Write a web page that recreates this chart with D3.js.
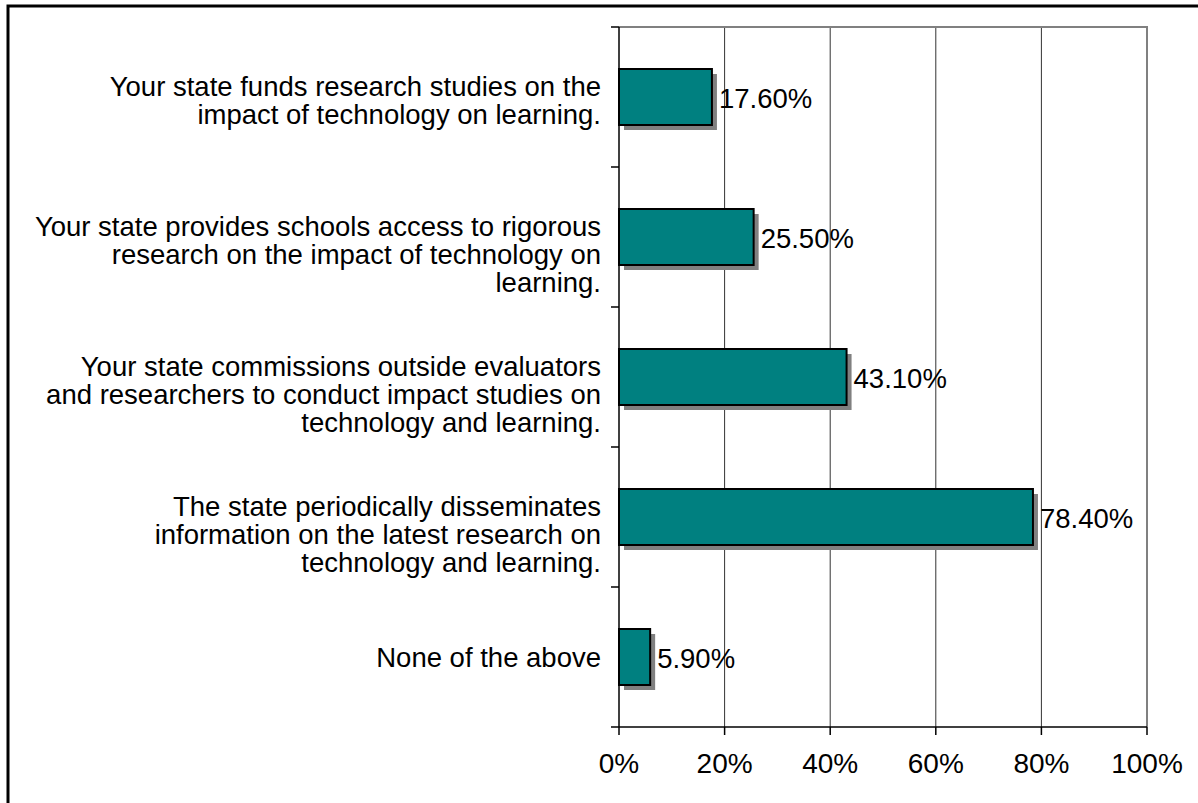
<!DOCTYPE html>
<html>
<head>
<meta charset="utf-8">
<script src="https://cdn.jsdelivr.net/npm/d3@7"></script>
<style>
  html, body { margin: 0; padding: 0; background: #fff; }
  svg { display: block; }
  text { font-family: "Liberation Sans", Arial, sans-serif; fill: #000; }
</style>
</head>
<body>
<svg id="chart" width="1198" height="803"></svg>
<script>
// Survey items (top to bottom) and the share of states answering yes
const categories = [
  ["Your state funds research studies on the", "impact of technology on learning."],
  ["Your state provides schools access to rigorous", "research on the impact of technology on", "learning."],
  ["Your state commissions outside evaluators", "and researchers to conduct impact studies on", "technology and learning."],
  ["The state periodically disseminates", "information on the latest research on", "technology and learning."],
  ["None of the above"]
];
const values = [17.6, 25.5, 43.1, 78.4, 5.9];
const valueLabels = ["17.60%", "25.50%", "43.10%", "78.40%", "5.90%"];
const xTicks = [0, 20, 40, 60, 80, 100];
const xTickLabels = ["0%", "20%", "40%", "60%", "80%", "100%"];

const svg = d3.select("#chart");
const plot = { left: 619, right: 1147, top: 27, bottom: 727 };
const fontSize = 27.5;
const tickFontSize = 28;

// Outer chart frame
svg.append("rect")
  .attr("x", 8).attr("y", 6)
  .attr("width", 1210).attr("height", 820)
  .attr("fill", "none").attr("stroke", "#000").attr("stroke-width", 3);

const x = d3.scaleLinear().domain([0, 100]).range([plot.left, plot.right]);
const y = d3.scaleBand()
  .domain(d3.range(categories.length))
  .range([plot.top, plot.bottom])
  .paddingInner(0.6).paddingOuter(0.3);
const band = d3.scaleBand().domain(d3.range(categories.length)).range([plot.top, plot.bottom]);

// Vertical gridlines
svg.append("g").selectAll("line")
  .data(xTicks.filter(t => t > 0 && t < 100))
  .join("line")
  .attr("x1", d => x(d)).attr("x2", d => x(d))
  .attr("y1", plot.top).attr("y2", plot.bottom)
  .attr("stroke", "#333").attr("stroke-width", 1);

// Plot-area border (top and right, grey)
svg.append("path")
  .attr("d", `M${plot.left},${plot.top}H${plot.right}V${plot.bottom}`)
  .attr("fill", "none").attr("stroke", "#808080").attr("stroke-width", 2);

// Bar shadows and bars
const bars = svg.append("g");
bars.selectAll("rect.shadow")
  .data(values)
  .join("rect")
  .attr("class", "shadow")
  .attr("x", x(0) + 5)
  .attr("y", (d, i) => y(i) + 5)
  .attr("width", d => x(d) - x(0))
  .attr("height", y.bandwidth())
  .attr("fill", "#808080");
bars.selectAll("rect.bar")
  .data(values)
  .join("rect")
  .attr("class", "bar")
  .attr("x", x(0))
  .attr("y", (d, i) => y(i))
  .attr("width", d => x(d) - x(0))
  .attr("height", y.bandwidth())
  .attr("fill", "#008080")
  .attr("stroke", "#000").attr("stroke-width", 2);

// Value labels
svg.append("g").selectAll("text")
  .data(values)
  .join("text")
  .attr("x", d => x(d) + 7)
  .attr("y", (d, i) => band(i) + band.bandwidth() / 2 + 1)
  .attr("dy", "0.36em")
  .attr("font-size", fontSize)
  .text((d, i) => valueLabels[i]);

// Category axis (left)
const yAxis = svg.append("g");
yAxis.append("line")
  .attr("x1", plot.left).attr("x2", plot.left)
  .attr("y1", plot.top).attr("y2", plot.bottom)
  .attr("stroke", "#000").attr("stroke-width", 1.5);
yAxis.selectAll("line.tick")
  .data(d3.range(categories.length + 1))
  .join("line")
  .attr("class", "tick")
  .attr("x1", plot.left - 8).attr("x2", plot.left)
  .attr("y1", d => plot.top + d * band.bandwidth())
  .attr("y2", d => plot.top + d * band.bandwidth())
  .attr("stroke", "#000").attr("stroke-width", 1.5);

const lineGap = 28;
yAxis.selectAll("text.cat")
  .data(categories)
  .join("text")
  .attr("class", "cat")
  .attr("text-anchor", "end")
  .attr("font-size", fontSize)
  .each(function (lines, i) {
    const c = band(i) + band.bandwidth() / 2;
    const start = lines.length > 1 ? c - 11 : c;
    d3.select(this).selectAll("tspan")
      .data(lines)
      .join("tspan")
      .attr("x", 601)
      .attr("y", (l, j) => start + j * lineGap)
      .attr("dy", "0.36em")
      .text(l => l);
  });

// Value axis (bottom)
const xAxis = svg.append("g");
xAxis.append("line")
  .attr("x1", plot.left).attr("x2", plot.right)
  .attr("y1", plot.bottom).attr("y2", plot.bottom)
  .attr("stroke", "#000").attr("stroke-width", 1.5);
xAxis.selectAll("line.tick")
  .data(xTicks)
  .join("line")
  .attr("class", "tick")
  .attr("x1", d => x(d)).attr("x2", d => x(d))
  .attr("y1", plot.bottom).attr("y2", plot.bottom + 8)
  .attr("stroke", "#000").attr("stroke-width", 1.5);
xAxis.selectAll("text")
  .data(xTicks)
  .join("text")
  .attr("x", d => x(d))
  .attr("y", 763)
  .attr("dy", "0.36em")
  .attr("text-anchor", "middle")
  .attr("font-size", tickFontSize)
  .text((d, i) => xTickLabels[i]);
</script>
</body>
</html>
